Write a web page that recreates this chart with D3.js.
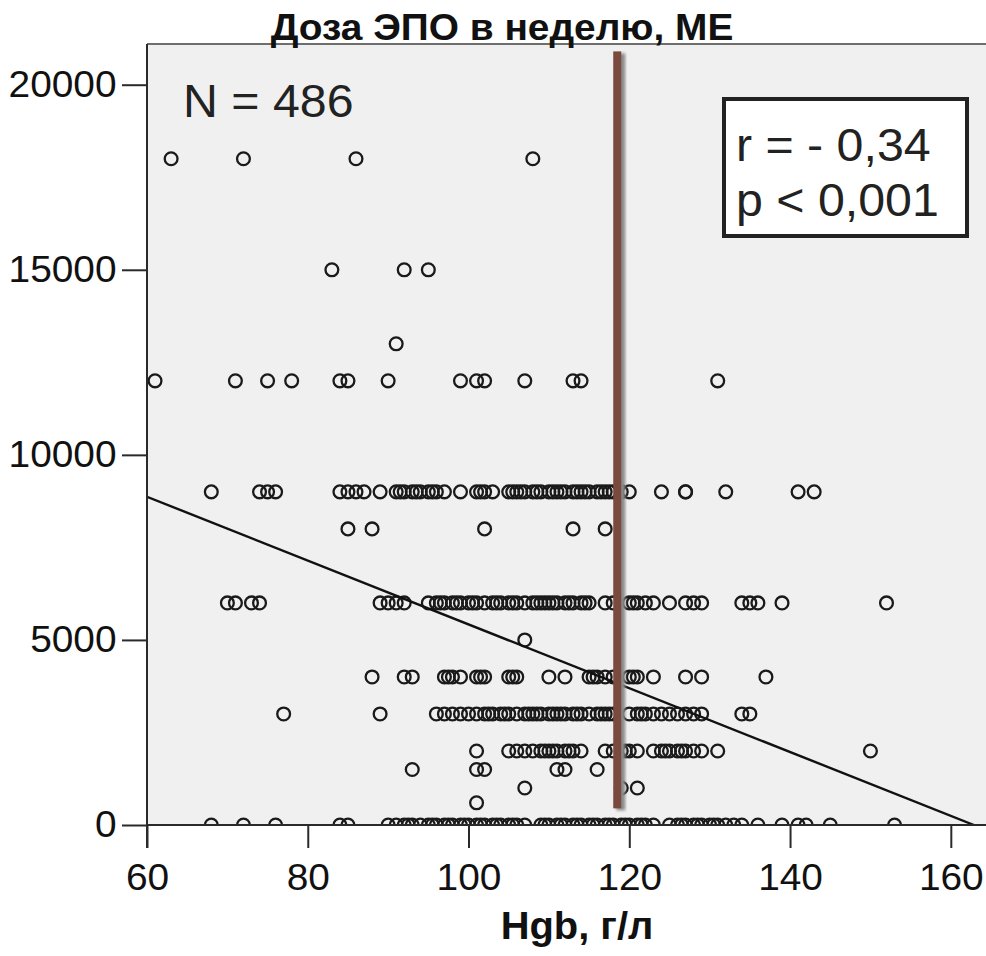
<!DOCTYPE html>
<html>
<head>
<meta charset="utf-8">
<script src="https://cdn.jsdelivr.net/npm/d3@7"></script>
<style>
  html, body { margin: 0; padding: 0; background: #fff; }
  svg { display: block; font-family: Arial, 'Liberation Sans', sans-serif; }
</style>
</head>
<body>
<div id="chart"></div>
<script>
// axis ticks
const hgbTicks = [60, 80, 100, 120, 140, 160]
const doseTicks = [0, 5000, 10000, 15000, 20000]

// Hgb values (g/l) of the points in each weekly EPO dose row (IU)
const hgb18000 = [63, 72, 86, 108]
const hgb15000 = [83, 92, 95]
const hgb13000 = [91]
const hgb12000 = [61, 71, 75, 78, 84, 85, 90, 99, 101, 102, 107, 113, 114, 131]
const hgb9000 = [68, 74, 75, 76, 84, 85, 86, 87, 89, 91, 92, 93, 94, 95, 96, 97, 99, 101, 102, 103,
  105, 106, 107, 108, 109, 110, 111, 112, 113, 114, 115, 116, 117, 118, 119, 120, 124, 127, 127, 132, 141, 143,
  91.5, 93.5, 95.5, 101.5, 105.5, 106.5, 108.5, 110.5, 111.5, 113.5, 114.5, 116.5, 117.5]
const hgb8000 = [85, 88, 102, 113, 117]
const hgb6000 = [70, 71, 73, 74, 89, 90, 91, 92, 95, 96, 97, 98, 99, 100, 101, 102, 103, 104, 105, 106,
  107, 108, 109, 110, 111, 112, 113, 114, 115, 117, 118, 120, 121, 122, 123, 125, 127, 128, 129,
  134, 135, 136, 139, 152,
  96.5, 98.5, 100.5, 103.5, 105.5, 108.5, 109.5, 110.5, 112.5, 114.5, 120.5]
const hgb5000 = [107]
const hgb4000 = [88, 92, 93, 97, 98, 99, 101, 102, 105, 106, 110, 112, 115, 116, 117, 118, 120, 121,
  123, 127, 129, 137, 97.5, 101.5, 105.5, 115.5, 120.5]
const hgb3000 = [77, 89, 96, 97, 98, 99, 100, 101, 102, 103, 104, 105, 106, 107, 108, 109, 110, 111,
  112, 113, 114, 115, 116, 117, 118, 120, 121, 122, 123, 124, 125, 126, 127, 128, 129, 134, 135,
  102.5, 104.5, 107.5, 108.5, 110.5, 111.5, 113.5, 116.5, 117.5, 121.5]
const hgb2000 = [101, 105, 106, 107, 108, 109, 110, 111, 112, 113, 114, 117, 118, 119, 120, 121, 123,
  124, 125, 126, 127, 128, 129, 131, 150, 109.5, 110.5, 112.5, 119.5, 124.5, 126.5]
const hgb1500 = [93, 101, 102, 111, 112, 116]
const hgb1000 = [107, 119, 121]
const hgb600 = [101]
const hgb0 = [68, 72, 76, 84, 85, 90, 91, 92, 93, 94, 95, 96, 97, 98, 99, 100, 101, 102, 103, 104, 105,
  106, 107, 109, 110, 111, 112, 113, 114, 115, 116, 117, 118, 119, 120, 121, 122, 123, 125, 126, 127,
  128, 129, 130, 131, 132, 133, 134, 136, 139, 141, 142, 145, 153,
  92.5, 95.5, 97.5, 99.5, 101.5, 103.5, 105.5, 109.5, 111.5, 113.5, 115.5, 117.5, 119.5, 121.5,
  126.5, 128.5, 130.5]

const doseRows = [
  [18000, hgb18000], [15000, hgb15000], [13000, hgb13000], [12000, hgb12000],
  [9000, hgb9000], [8000, hgb8000], [6000, hgb6000], [5000, hgb5000], [4000, hgb4000],
  [3000, hgb3000], [2000, hgb2000], [1500, hgb1500], [1000, hgb1000], [600, hgb600], [0, hgb0]
]

// linear fit: dose = intercept + slope * hgb
const fitLine = { intercept: 14040, slope: -86.2 }
// reference line at Hgb 118.5
const refLine = { hgb: 118.5, from: 450, to: 20900 }

const titleText = 'Доза ЭПО в неделю, МЕ'
const xLabelText = 'Hgb, г/л'
const nText = 'N = 486'
const statLines = ['r = - 0,34', 'p < 0,001']

const width = 986
const height = 956
const margin = { top: 44, left: 147, bottom: 131 }
const plotRight = 991
const stretch = 1.05 // text in the source is slightly wider than plain Arial

const points = doseRows.flatMap(([dose, hgbs]) => hgbs.map(hgb => ({ hgb, dose })))

const svg = d3.select('#chart')
  .append('svg')
  .attr('width', width)
  .attr('height', height)

const x = d3.scaleLinear()
  .domain([60, 165])
  .range([margin.left, plotRight])

const y = d3.scaleLinear()
  .domain([0, 21100])
  .range([height - margin.bottom, margin.top])

const defs = svg.append('defs')
defs.append('clipPath').attr('id', 'plot-clip')
  .append('rect')
  .attr('x', x(60)).attr('y', y(21100))
  .attr('width', x(165) - x(60)).attr('height', y(0) - y(21100))
defs.append('filter').attr('id', 'blur')
  .append('feGaussianBlur').attr('stdDeviation', 1.6)

// plot background + top frame
svg.append('rect')
  .attr('x', x(60)).attr('y', y(21100))
  .attr('width', x(165) - x(60)).attr('height', y(0) - y(21100))
  .attr('fill', '#f0f0f0')
svg.append('line')
  .attr('x1', x(60)).attr('x2', x(165))
  .attr('y1', y(21100)).attr('y2', y(21100))
  .attr('stroke', '#6e6e6e').attr('stroke-width', 2)

const plot = svg.append('g').attr('clip-path', 'url(#plot-clip)')

// points
plot.append('g')
  .selectAll('circle')
  .data(points)
  .join('circle')
  .attr('cx', d => x(d.hgb))
  .attr('cy', d => y(d.dose))
  .attr('r', 6.4)
  .attr('fill', 'none')
  .attr('stroke', '#1a1a1a')
  .attr('stroke-width', 2.3)

// fit line, drawn until it hits zero dose
const hgbAtZero = -fitLine.intercept / fitLine.slope
plot.append('line')
  .attr('x1', x(60)).attr('y1', y(fitLine.intercept + fitLine.slope * 60))
  .attr('x2', x(hgbAtZero)).attr('y2', y(0))
  .attr('stroke', '#111').attr('stroke-width', 2.4)

// reference line with a soft shadow
svg.append('rect')
  .attr('x', x(refLine.hgb) - 1).attr('y', y(refLine.to) + 2)
  .attr('width', 9).attr('height', y(refLine.from) - y(refLine.to))
  .attr('fill', '#8a8a8a')
  .attr('filter', 'url(#blur)')
svg.append('rect')
  .attr('x', x(refLine.hgb) - 4).attr('y', y(refLine.to))
  .attr('width', 8).attr('height', y(refLine.from) - y(refLine.to))
  .attr('fill', '#7b4a3f')

// axes
const xAxis = d3.axisBottom(x)
  .tickValues(hgbTicks)
  .tickSize(23)
  .tickSizeOuter(0)
  .tickPadding(16)
const yAxis = d3.axisLeft(y)
  .tickValues(doseTicks)
  .tickFormat(d3.format('d'))
  .tickSize(25)
  .tickSizeOuter(0)
  .tickPadding(4)

const styleAxis = g => {
  g.select('.domain').attr('stroke', '#2a2a2a').attr('stroke-width', 2)
  g.selectAll('.tick line').attr('stroke', '#2a2a2a').attr('stroke-width', 2)
  g.selectAll('.tick text')
    .attr('fill', '#111')
    .style('font-size', '37px')
    .attr('transform', `scale(${stretch},1)`)
}

svg.append('g')
  .attr('transform', `translate(0,${y(0)})`)
  .call(xAxis)
  .call(g => g.select('.domain').attr('d', `M${x(60)},0H${x(165)}`))
  .call(styleAxis)
  .call(g => g.selectAll('.tick text').attr('dy', '0.7em'))

svg.append('g')
  .attr('transform', `translate(${x(60)},0)`)
  .call(yAxis)
  .call(g => g.select('.domain').attr('d', `M0,${y(21100)}V${y(0) + 23}`))
  .call(styleAxis)

// texts
const addText = (str, px, py, size, opts = {}) => svg.append('text')
  .attr('transform', `translate(${px},${py}) scale(${stretch},1)`)
  .attr('text-anchor', opts.anchor || 'start')
  .attr('font-weight', opts.weight || 'normal')
  .style('font-size', `${size}px`)
  .attr('fill', opts.color || '#111')
  .text(str)

addText(titleText, 502, 40, 37, { anchor: 'middle', weight: 'bold' })
addText(xLabelText, 577, 939, 38, { anchor: 'middle', weight: 'bold' })
addText(nText, 183, 117, 46, { color: '#222' })

// stats box
svg.append('rect')
  .attr('x', 724).attr('y', 99)
  .attr('width', 243).attr('height', 137)
  .attr('fill', '#fff')
  .attr('stroke', '#222')
  .attr('stroke-width', 4)
statLines.forEach((line, i) => addText(line, 736, 161 + i * 55, 46, { color: '#222' }))
</script>
</body>
</html>
